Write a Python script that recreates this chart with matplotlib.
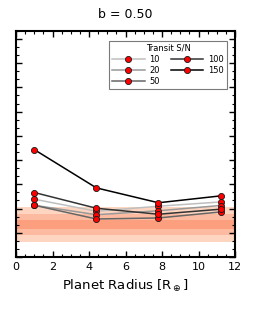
import matplotlib
matplotlib.use("Agg")
import matplotlib.pyplot as plt
from matplotlib.ticker import MultipleLocator

# planet radii (x) and detection metric per transit S/N
radius = [1.0, 4.4, 7.8, 11.2]
snr_labels = ["10", "20", "50", "100", "150"]
vals_10 = [7.16, 5.67, 6.29, 6.82]
vals_20 = [6.41, 5.24, 5.73, 6.38]
vals_50 = [6.41, 4.71, 4.84, 5.58]
vals_100 = [7.99, 6.04, 5.30, 5.92]
vals_150 = [13.3, 8.56, 6.72, 7.57]
series = [vals_10, vals_20, vals_50, vals_100, vals_150]
grays = ["0.75", "0.6", "0.4", "0.2", "0.0"]

# shaded reference bands (lower, upper)
bands = [(1.83, 6.17), (2.72, 5.28), (3.44, 4.56)]
band_colors = ["#fdd5c0", "#fcbba1", "#fc9f7f"]

fig = plt.figure(figsize=(2.55, 3.15), dpi=100)
ax = fig.add_axes([0.063, 0.184, 0.859, 0.718])

for (lo, hi), c in zip(bands, band_colors):
    ax.axhspan(lo, hi, color=c, lw=0, zorder=0)

for vals, lab, g in zip(series, snr_labels, grays):
    ax.plot(radius, vals, '-o', color=g, lw=1.1, label=lab,
            mfc='red', mec='0.1', mew=0.6, ms=4.4, zorder=3)

ax.set_xlim(0, 12)
ax.set_ylim(0, 28)
ax.xaxis.set_major_locator(MultipleLocator(2))
ax.xaxis.set_minor_locator(MultipleLocator(0.5))
ax.yaxis.set_major_locator(MultipleLocator(3))
ax.yaxis.set_minor_locator(MultipleLocator(1))
ax.tick_params(which='both', direction='in', top=True, right=True)
ax.tick_params(which='major', length=4.5, width=1, labelsize=8)
ax.tick_params(which='minor', length=2.2, width=0.8)
ax.tick_params(axis='y', labelleft=False)
for s in ax.spines.values():
    s.set_linewidth(1.5)

ax.set_title("b = 0.50", fontsize=9, pad=9)
ax.set_xlabel(r"Planet Radius [R$_\oplus$]", fontsize=9.5, labelpad=4)

leg = ax.legend(title="Transit S/N", ncol=2, fontsize=6, title_fontsize=6,
                loc='upper right', bbox_to_anchor=(0.963, 0.957),
                borderaxespad=0, handlelength=3.9, columnspacing=1.3,
                handletextpad=0.6, labelspacing=0.25, borderpad=0.35,
                fancybox=False, edgecolor='0.35')
leg.get_frame().set_linewidth(0.8)

fig.savefig("out.png", dpi=100)
